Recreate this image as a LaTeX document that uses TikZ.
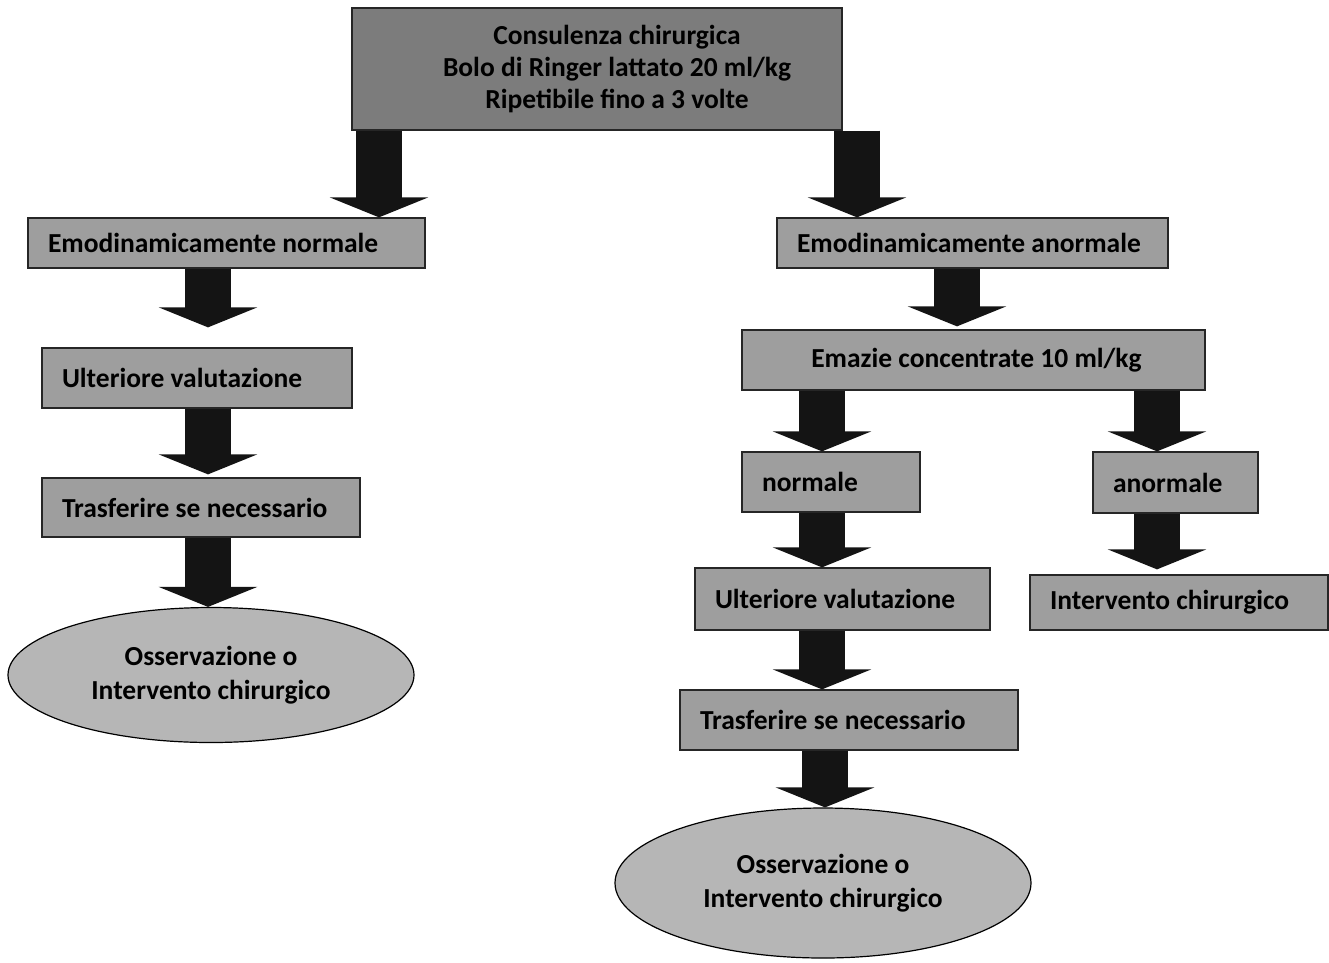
\documentclass[tikz,border=0pt]{standalone}
\usepackage{fontspec}
\setmainfont{Carlito}
\usetikzlibrary{arrows.meta,shapes.geometric,calc}
\definecolor{topgray}{HTML}{7C7C7C}
\definecolor{boxgray}{HTML}{9E9E9E}
\definecolor{ellgray}{HTML}{B6B6B6}
\begin{document}
\begin{tikzpicture}[x=1pt,y=-1pt,
  box/.style={draw=black!85, line width=1.3pt, fill=boxgray, font=\fontsize{27.5}{32}\selectfont\bfseries,
    inner xsep=20pt, inner ysep=0pt, align=flush left, anchor=center},
  topbox/.style={box, fill=topgray, align=flush center, inner xsep=0pt},
  oval/.style={ellipse, draw=black, line width=1.2pt, fill=ellgray, inner sep=0pt,
    font=\fontsize{27.5}{34}\selectfont\bfseries, align=center},
  blk/.style={draw=black!92, line width=46pt,
    -{Triangle[width=98pt,length=20pt]}, shorten >=0pt}]
  % page
  \fill[white] (0,0) rectangle (1329,962);
  \useasboundingbox (0,0) rectangle (1329,962);

  % top node
  \node[topbox, minimum width=490pt, minimum height=122pt, text width=490pt] (top) at (597,69)
    {\hspace*{40pt}Consulenza chirurgica\\\hspace*{40pt}Bolo di Ringer lattato 20 ml/kg\\\hspace*{40pt}Ripetibile fino a 3 volte};

  % left branch
  \node[box, text width=357pt, minimum height=50pt] (emn) at (226.5,243) {Emodinamicamente normale};
  \node[box, text width=270pt, minimum height=60pt] (uv1) at (197,378) {Ulteriore valutazione};
  \node[box, text width=278pt, minimum height=59pt] (ts1) at (201,507.5) {Trasferire se necessario};
  \node[oval, minimum width=406pt, minimum height=135pt] (ell1) at (211,675)
    {Osservazione o\\Intervento chirurgico};

  % right branch
  \node[box, text width=351pt, minimum height=50pt] (ema) at (972.5,243) {Emodinamicamente anormale};
  \node[box, inner xsep=0pt, align=flush center, text width=463pt, minimum height=60pt] (emc) at (973.5,360)
    {\hspace*{6pt}Emazie concentrate 10 ml/kg};
  \node[box, text width=138pt, minimum height=60pt] (nor) at (831,482) {normale};
  \node[box, text width=125pt, minimum height=61pt] (anor) at (1175.5,482.5) {anormale};
  \node[box, text width=255pt, minimum height=62pt] (uv2) at (842.5,599) {Ulteriore valutazione};
  \node[box, text width=258pt, minimum height=55pt] (ic) at (1179,602.5) {Intervento chirurgico};
  \node[box, text width=298pt, minimum height=60pt] (ts2) at (849,720) {Trasferire se necessario};
  \node[oval, minimum width=416pt, minimum height=150pt] (ell2) at (823,883)
    {Osservazione o\\Intervento chirurgico};

  % block arrows
  \draw[blk] (379,0 |- top.south) -- (379,0 |- emn.north);
  \draw[blk] (857,0 |- top.south) -- (857,0 |- ema.north);
  \draw[blk] (208,0 |- emn.south) -- ($(208,0 |- uv1.north)+(0,-20)$);
  \draw[blk] (208,0 |- uv1.south) -- ($(208,0 |- ts1.north)+(0,-3)$);
  \draw[blk] (208,0 |- ts1.south) -- (208,0 |- ell1.north);
  \draw[blk] (957,0 |- ema.south) -- ($(957,0 |- emc.north)+(0,-3)$);
  \draw[blk] (822,0 |- emc.south) -- (822,0 |- nor.north);
  \draw[blk] (1157,0 |- emc.south) -- (1157,0 |- anor.north);
  \draw[blk] (822,0 |- nor.south) -- (822,0 |- uv2.north);
  \draw[blk] (1157,0 |- anor.south) -- ($(1157,0 |- ic.north)+(0,-5)$);
  \draw[blk] (822,0 |- uv2.south) -- (822,0 |- ts2.north);
  \draw[blk] (825,0 |- ts2.south) -- (825,0 |- ell2.north);
\end{tikzpicture}
\end{document}
